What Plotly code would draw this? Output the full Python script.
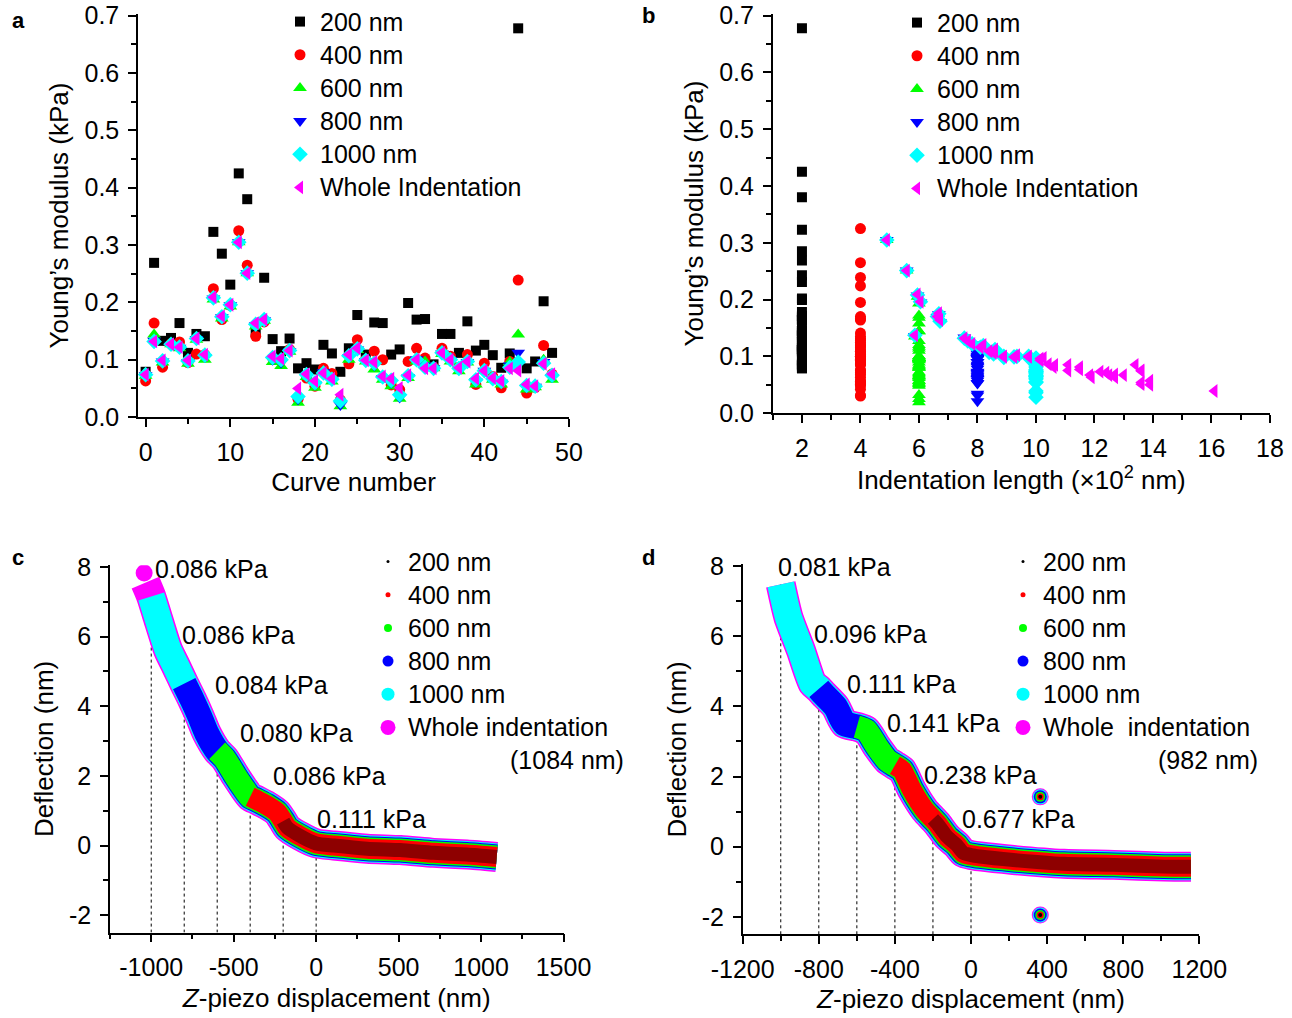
import plotly.graph_objects as go

W, H = 1292, 1018
FONT = "Arial, 'Liberation Sans', sans-serif"

def fx(p):
    return p / W

def fy(p):
    return 1 - p / H

# ---------------- Panel a / b data ----------------
curve_no = list(range(49))
E_200 = [0.079, 0.269, 0.133, 0.138, 0.164, 0.112, 0.145, 0.141, 0.323, 0.285, 0.231, 0.425, 0.380, 0.150,
         0.243, 0.136, 0.115, 0.137, 0.085, 0.094, 0.083, 0.126, 0.111, 0.079, 0.120, 0.178, 0.109, 0.165,
         0.164, 0.109, 0.118, 0.199, 0.170, 0.171, 0.092, 0.145, 0.145, 0.112, 0.167, 0.116, 0.126, 0.108,
         0.086, 0.111, 0.678, 0.085, 0.097, 0.202, 0.112]
E_400 = [0.063, 0.164, 0.087, 0.128, 0.131, 0.095, 0.110, 0.109, 0.224, 0.170, 0.195, 0.325, 0.265, 0.141,
         0.166, 0.103, 0.100, 0.118, 0.031, 0.068, 0.054, 0.085, 0.076, 0.030, 0.093, 0.135, 0.100, 0.115,
         0.100, 0.056, 0.048, 0.097, 0.120, 0.103, 0.087, 0.120, 0.106, 0.087, 0.109, 0.057, 0.094, 0.071,
         0.051, 0.097, 0.239, 0.042, 0.052, 0.125, 0.075]
E_600 = [0.072, 0.144, 0.095, 0.127, 0.120, 0.093, 0.135, 0.100, 0.205, 0.172, 0.193, 0.305, 0.251, 0.158,
         0.168, 0.096, 0.089, 0.114, 0.025, 0.070, 0.051, 0.080, 0.062, 0.019, 0.100, 0.117, 0.097, 0.083,
         0.065, 0.054, 0.032, 0.068, 0.097, 0.097, 0.085, 0.110, 0.097, 0.080, 0.095, 0.057, 0.081, 0.065,
         0.057, 0.096, 0.144, 0.048, 0.052, 0.100, 0.065]
E_800 = [0.073, 0.133, 0.097, 0.126, 0.121, 0.096, 0.136, 0.105, 0.207, 0.174, 0.195, 0.305, 0.251, 0.160,
         0.169, 0.100, 0.095, 0.115, 0.031, 0.072, 0.057, 0.078, 0.064, 0.021, 0.104, 0.118, 0.098, 0.090,
         0.068, 0.060, 0.034, 0.070, 0.101, 0.090, 0.085, 0.111, 0.099, 0.083, 0.096, 0.062, 0.081, 0.066,
         0.060, 0.090, 0.112, 0.052, 0.053, 0.096, 0.070]
E_1000 = [0.074, 0.132, 0.098, 0.127, 0.122, 0.098, 0.137, 0.108, 0.208, 0.175, 0.196, 0.305, 0.251, 0.162,
          0.170, 0.104, 0.100, 0.116, 0.036, 0.074, 0.060, 0.077, 0.066, 0.028, 0.107, 0.119, 0.099, 0.094,
          0.070, 0.064, 0.039, 0.072, 0.100, 0.087, 0.085, 0.112, 0.100, 0.085, 0.097, 0.065, 0.081, 0.067,
          0.062, 0.087, 0.096, 0.055, 0.054, 0.094, 0.073]
E_whole = [0.074, 0.132, 0.099, 0.127, 0.122, 0.099, 0.137, 0.109, 0.209, 0.176, 0.196, 0.305, 0.251, 0.164,
           0.170, 0.106, 0.102, 0.116, 0.050, 0.075, 0.063, 0.077, 0.067, 0.039, 0.109, 0.120, 0.099, 0.096,
           0.071, 0.067, 0.051, 0.073, 0.100, 0.085, 0.085, 0.112, 0.100, 0.086, 0.097, 0.067, 0.081, 0.068,
           0.063, 0.085, 0.081, 0.057, 0.054, 0.093, 0.075]
# whole indentation length of each curve (x10^2 nm)
L_whole = [13.6, 7.55, 9.75, 7.67, 7.82, 8.9, 5.86, 8.6, 5.95, 6.68, 6.05, 4.90, 5.58, 6.72, 6.63, 8.55, 9.35,
           8.1, 13.9, 13.6, 11.9, 11.5, 11.85, 16.1, 8.4, 8.2, 9.25, 10.15, 12.4, 13.0, 13.6, 12.2, 9.75, 10.65,
           11.1, 8.6, 8.9, 10.43, 10.26, 12.5, 10.6, 12.7, 12.7, 13.4, 11.5, 13.9, 13.6, 10.15, 11.1]

series_names = ["200 nm", "400 nm", "600 nm", "800 nm", "1000 nm", "Whole Indentation"]
series_len = [2, 4, 6, 8, 10, None]
series_vals = [E_200, E_400, E_600, E_800, E_1000, E_whole]
series_colors = ["#000000", "#FF0000", "#00FF00", "#0000FF", "#00FFFF", "#FF00FF"]
series_symbols = ["square", "circle", "triangle-up", "triangle-down", "diamond", "triangle-left"]
series_sizes = [10, 11, 12, 12, 12, 12]

# ---------------- Panel c / d data ----------------
c_x = [-1035, -1000, -962, -898, -850, -800, -751, -706, -664, -600, -555, -488, -440, -400, -357, -297,
       -236, -200, -176, -95, 0, 107, 309, 510, 712, 914, 1095]
c_y = [7.55, 7.15, 6.57, 5.62, 5.15, 4.65, 4.18, 3.71, 3.23, 2.72, 2.50, 1.99, 1.65, 1.40, 1.30, 1.15,
       0.95, 0.70, 0.52, 0.27, 0.06, 0.00, -0.09, -0.13, -0.21, -0.26, -0.33]
c_dot_x = [-1043]
c_dot_y = [7.83]
c_starts = [-1035, -1000, -800, -600, -400, -200]   # whole, 1000, 800, 600, 400, 200
c_labels = ["0.086 kPa", "0.086 kPa", "0.084 kPa", "0.080 kPa", "0.086 kPa", "0.111 kPa"]
c_label_x = [-991, -827, -627, -476, -276, -4]
c_label_y = [7.94, 6.05, 4.61, 3.24, 2.00, 0.77]

d_x = [-1000, -960, -894, -832, -800, -779, -712, -665, -600, -551, -494, -441, -400, -362, -310, -243,
       -200, -178, -125, -76, -40, 0, 47, 223, 487, 751, 1015, 1156]
d_y = [7.48, 6.55, 5.60, 4.65, 4.50, 4.37, 3.99, 3.51, 3.42, 3.32, 2.85, 2.47, 2.32, 2.18, 1.61, 1.04,
       0.79, 0.66, 0.28, 0.05, -0.18, -0.24, -0.28, -0.38, -0.49, -0.52, -0.57, -0.57]
d_out_x = [364, 364]
d_out_y = [1.42, -1.95]
d_starts = [-1000, -1000, -800, -600, -400, -200]
d_labels = ["0.081 kPa", "0.096 kPa", "0.111 kPa", "0.141 kPa", "0.238 kPa", "0.677 kPa"]
d_label_x = [-1024, -834, -660, -454, -259, -58]
d_label_y = [7.97, 6.06, 4.63, 3.52, 2.05, 0.79]

boundaries = [-1000, -800, -600, -400, -200, 0]

cd_names = ["200 nm", "400 nm", "600 nm", "800 nm", "1000 nm", "Whole indentation"]
cd_names_d = ["200 nm", "400 nm", "600 nm", "800 nm", "1000 nm", "Whole&nbsp; indentation"]
cd_colors = ["rgba(30,0,0,0.5)", "#FF0000", "#00FF00", "#0000FF", "#00FFFF", "#FF00FF"]
cd_legend_colors = ["#000000", "#FF0000", "#00FF00", "#0000FF", "#00FFFF", "#FF00FF"]
cd_legend_sizes = [3, 5, 8, 11, 13, 15]
cd_widths = [14, 20, 23, 25, 27, 30]          # order 200 ... whole
cd_dot_sizes = [4, 7, 10, 13, 15, 17]

TXT = 25
LEG_ROW = 23.2   # legend font size that sets the row pitch


def leg_name(t):
    return '<span style="font-size:%dpx">%s</span>' % (TXT, t)


fig = go.Figure()

# ---------------- Panel a ----------------
for k in range(6):
    fig.add_trace(go.Scatter(
        x=curve_no, y=series_vals[k], mode="markers", name=leg_name(series_names[k]),
        marker=dict(symbol=series_symbols[k], size=series_sizes[k], color=series_colors[k], line=dict(width=0)),
        xaxis="x", yaxis="y", legend="legend", hoverinfo="skip"))

# ---------------- Panel b ----------------
for k in range(6):
    if series_len[k] is None:
        xs = L_whole
    else:
        xs = [min(series_len[k], L) for L in L_whole]
    fig.add_trace(go.Scatter(
        x=xs, y=series_vals[k], mode="markers", name=leg_name(series_names[k]),
        marker=dict(symbol=series_symbols[k], size=series_sizes[k], color=series_colors[k], line=dict(width=0)),
        xaxis="x2", yaxis="y2", legend="legend2", hoverinfo="skip"))


# ---------------- Panels c / d ----------------
def add_force_panel(xa, ya, legname, cx, cy, starts, names, dots_x, dots_y, dots_all):
    # draw from whole (bottom) to 200 nm (top)
    for k in range(5, -1, -1):
        start = starts[5 - k]
        xs = [x for x in cx if x >= start]
        ys = [y for x, y in zip(cx, cy) if x >= start]
        fig.add_trace(go.Scatter(x=xs, y=ys, mode="lines",
                                 line=dict(color=cd_colors[k], width=cd_widths[k], shape="spline", smoothing=0.6),
                                 xaxis=xa, yaxis=ya, showlegend=False, hoverinfo="skip"))
        if dots_all or k == 5:
            fig.add_trace(go.Scatter(x=dots_x, y=dots_y, mode="markers",
                                     marker=dict(color=cd_legend_colors[k], size=cd_dot_sizes[k], line=dict(width=0)),
                                     xaxis=xa, yaxis=ya, showlegend=False, hoverinfo="skip"))
    for k in range(6):
        fig.add_trace(go.Scatter(x=[None], y=[None], mode="markers", name=leg_name(names[k]),
                                 marker=dict(color=cd_legend_colors[k], size=cd_legend_sizes[k]),
                                 xaxis=xa, yaxis=ya, legend=legname, hoverinfo="skip"))


add_force_panel("x3", "y3", "legend3", c_x, c_y, c_starts, cd_names, c_dot_x, c_dot_y, False)
add_force_panel("x4", "y4", "legend4", d_x, d_y, d_starts, cd_names_d, d_out_x, d_out_y, True)

shapes = []
for xa, ya, cx, cy in [("x3", "y3", c_x, c_y), ("x4", "y4", d_x, d_y)]:
    for b in boundaries:
        yt = cy[cx.index(b)]
        shapes.append(dict(type="line", xref=xa, yref=ya, x0=b, x1=b, y0=-2.5, y1=yt,
                           line=dict(color="black", width=1, dash="dot"), layer="below"))

annotations = []
for xa, ya, labs, lx, ly in [("x3", "y3", c_labels, c_label_x, c_label_y),
                              ("x4", "y4", d_labels, d_label_x, d_label_y)]:
    for t, x, y in zip(labs, lx, ly):
        annotations.append(dict(text=t, x=x, y=y, xref=xa, yref=ya, xanchor="left", yanchor="middle",
                                showarrow=False, font=dict(size=TXT, color="black", family=FONT)))

annotations.append(dict(text="(1084 nm)", x=fx(626), y=fy(760), xref="paper", yref="paper",
                        xanchor="right", yanchor="middle", showarrow=False, font=dict(size=TXT)))
annotations.append(dict(text="(982 nm)", x=fx(1260), y=fy(760), xref="paper", yref="paper",
                        xanchor="right", yanchor="middle", showarrow=False, font=dict(size=TXT)))
for letter, px_, py_ in [("a", 18, 20), ("b", 648, 15), ("c", 18, 557), ("d", 648, 557)]:
    annotations.append(dict(text="<b>%s</b>" % letter, x=fx(px_), y=fy(py_), xref="paper", yref="paper",
                            xanchor="center", yanchor="middle", showarrow=False, font=dict(size=22)))


def axis(domain, rng, tickvals, ticktext, minor_tick0, minor_dtick, title, anchor, standoff=8):
    return dict(domain=domain, range=rng, tickmode="array", tickvals=tickvals, ticktext=ticktext,
                showline=True, linecolor="black", linewidth=1.5, ticks="outside", ticklen=8,
                tickwidth=1.5, tickcolor="black", showgrid=False, zeroline=False, automargin=False,
                tickfont=dict(size=TXT, color="black"), ticklabelstandoff=4, ticklabeloverflow="allow",
                minor=dict(tickmode="linear", tick0=minor_tick0, dtick=minor_dtick, ticks="outside",
                           ticklen=5, tickwidth=1.5, tickcolor="black", showgrid=False),
                title=dict(text=title, font=dict(size=26, color="black"), standoff=standoff),
                anchor=anchor, fixedrange=True)


E_ticks = [0.0, 0.1, 0.2, 0.3, 0.4, 0.5, 0.6, 0.7]
E_ticktext = ["%.1f" % v for v in E_ticks]
a_xticks = [0, 10, 20, 30, 40, 50]
b_xticks = [2, 4, 6, 8, 10, 12, 14, 16, 18]
c_xticks = [-1000, -500, 0, 500, 1000, 1500]
d_xticks = [-1200, -800, -400, 0, 400, 800, 1200]
cd_yticks = [-2, 0, 2, 4, 6, 8]


def txt(vals):
    return [str(v) for v in vals]


legend_common = dict(font=dict(size=LEG_ROW, color="black", family=FONT), bgcolor="rgba(0,0,0,0)",
                     xanchor="left", yanchor="top", tracegroupgap=0, itemclick=False, borderwidth=0)

fig.update_layout(
    template="none",
    width=W, height=H, margin=dict(l=0, r=0, t=0, b=0, pad=0), autosize=False,
    paper_bgcolor="white", plot_bgcolor="white", hovermode=False,
    font=dict(family=FONT, color="black", size=TXT),
    xaxis=axis([fx(138), fx(569)], [-0.9, 50], a_xticks, txt(a_xticks), 0, 5, "Curve number", "y"),
    yaxis=axis([fy(416.5), fy(13)], [0, 0.703], E_ticks, E_ticktext, 0, 0.05,
               "Young\u2019s modulus (kPa)", "x"),
    xaxis2=axis([fx(772.7), fx(1270)], [1, 18], b_xticks, txt(b_xticks), 1, 1,
                "Indentation length (\u00d710<sup>2</sup> nm)", "y2"),
    yaxis2=axis([fy(412.5), fy(13)], [0, 0.703], E_ticks, E_ticktext, 0, 0.05,
                "Young\u2019s modulus (kPa)", "x2"),
    xaxis3=axis([fx(110), fx(563.5)], [-1250, 1500], c_xticks, txt(c_xticks), -1250, 250,
                "<i>Z</i>-piezo displacement (nm)", "y3"),
    yaxis3=axis([fy(932.5), fy(564.8)], [-2.5, 8.05], cd_yticks, txt(cd_yticks), -1, 1,
                "Deflection (nm)", "x3"),
    xaxis4=axis([fx(742.7), fx(1199.3)], [-1200, 1200], d_xticks, txt(d_xticks), 0, 200,
                "<i>Z</i>-piezo displacement (nm)", "y4"),
    yaxis4=axis([fy(934.2), fy(564)], [-2.5, 8.05], cd_yticks, txt(cd_yticks), -1, 1,
                "Deflection (nm)", "x4"),
    legend=dict(x=fx(280), y=fy(-1), **legend_common),
    legend2=dict(x=fx(897), y=fy(1), **legend_common),
    legend3=dict(x=fx(368), y=fy(540), **legend_common),
    legend4=dict(x=fx(1003), y=fy(540), **legend_common),
    shapes=shapes, annotations=annotations,
)

fig.write_html("out.html", config={"displayModeBar": False, "responsive": False},
               post_script="document.body.style.margin='0';")
